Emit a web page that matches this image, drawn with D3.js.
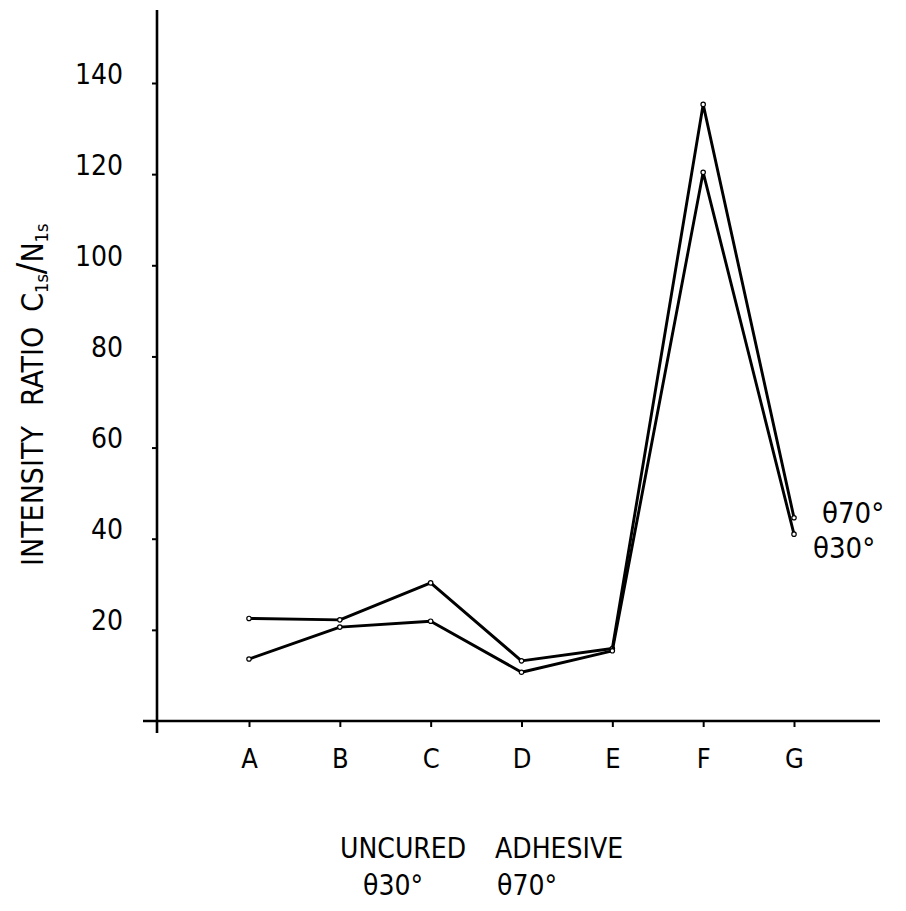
<!DOCTYPE html>
<html>
<head>
<meta charset="utf-8">
<script src="https://cdn.jsdelivr.net/npm/d3@7"></script>
<style>
  body { margin: 0; background: #fff; }
  svg text { font-family: "DejaVu Sans Condensed", "DejaVu Sans", sans-serif; font-stretch: condensed; fill: #000; }
</style>
</head>
<body>
<div id="chart"></div>
<script>
// samples along the x axis
const categories = ["A", "B", "C", "D", "E", "F", "G"];
// intensity ratio C1s/N1s
const theta70 = [22.5, 22.2, 30.3, 13.2, 15.9, 135.3, 44.6];
const theta30 = [13.6, 20.6, 21.9, 10.7, 15.4, 120.4, 41.0];
const yTicks = [20, 40, 60, 80, 100, 120, 140];

const width = 906, height = 911;

const svg = d3.select("#chart")
    .append("svg")
    .attr("width", width)
    .attr("height", height);

const x = d3.scalePoint()
    .domain(categories)
    .range([249, 794]);

const y = d3.scaleLinear()
    .domain([0, 140])
    .range([721, 83]);

const axisX = 157;
const axisY = y(0);

// y axis
const yAxis = svg.append("g")
    .attr("transform", `translate(${axisX},0)`)
    .call(d3.axisLeft(y).tickValues(yTicks).tickSize(5).tickPadding(29));
yAxis.select(".domain").remove();
yAxis.selectAll(".tick line").attr("stroke", "#000").attr("stroke-width", 2);
yAxis.selectAll(".tick text")
    .style("font-size", "28px")
    .attr("dy", "0");

svg.append("line")
    .attr("x1", axisX).attr("x2", axisX)
    .attr("y1", 10).attr("y2", 733)
    .attr("stroke", "#000").attr("stroke-width", 2.6);

// x axis
const xAxis = svg.append("g")
    .attr("transform", `translate(0,${axisY})`)
    .call(d3.axisBottom(x).tickSize(6));
xAxis.select(".domain").remove();
xAxis.selectAll(".tick line").attr("stroke", "#000").attr("stroke-width", 2);
xAxis.selectAll(".tick text")
    .attr("y", 47)
    .attr("dy", "0")
    .style("font-size", "27px");

svg.append("line")
    .attr("x1", 143).attr("x2", 880)
    .attr("y1", axisY).attr("y2", axisY)
    .attr("stroke", "#000").attr("stroke-width", 2.6);

// series
const line = d3.line()
    .x((d, i) => x(categories[i]))
    .y(d => y(d));

[theta70, theta30].forEach(series => {
    svg.append("path")
        .datum(series)
        .attr("fill", "none")
        .attr("stroke", "#000")
        .attr("stroke-width", 2.9)
        .attr("stroke-linejoin", "round")
        .attr("d", line);

    svg.selectAll(null)
        .data(series)
        .enter()
        .append("circle")
        .attr("cx", (d, i) => x(categories[i]))
        .attr("cy", d => y(d))
        .attr("r", 2.2)
        .attr("fill", "#fff")
        .attr("stroke", "#000")
        .attr("stroke-width", 1.2);
});

// series labels at the right end
svg.append("text")
    .attr("x", 822).attr("y", 523)
    .style("font-size", "29px")
    .text("θ70°");
svg.append("text")
    .attr("x", 813).attr("y", 558)
    .style("font-size", "29px")
    .text("θ30°");

// y axis title
const yTitle = svg.append("text")
    .attr("transform", "translate(43,566) rotate(-90)")
    .style("font-size", "30px");
yTitle.append("tspan").text("INTENSITY");
yTitle.append("tspan").attr("dx", 20).text("RATIO");
yTitle.append("tspan").attr("dx", 15).text("C");
yTitle.append("tspan").attr("dy", 5).style("font-size", "18px").text("1s");
yTitle.append("tspan").attr("dy", -5).style("font-size", "38px").text("/");
yTitle.append("tspan").text("N");
yTitle.append("tspan").attr("dy", 5).style("font-size", "18px").text("1s");

// bottom title
svg.append("text")
    .attr("x", 340).attr("y", 858)
    .style("font-size", "28px")
    .text("UNCURED");
svg.append("text")
    .attr("x", 495).attr("y", 858)
    .style("font-size", "28px")
    .text("ADHESIVE");
svg.append("text")
    .attr("x", 363).attr("y", 895)
    .style("font-size", "28px")
    .text("θ30°");
svg.append("text")
    .attr("x", 497).attr("y", 895)
    .style("font-size", "28px")
    .text("θ70°");
</script>
</body>
</html>
